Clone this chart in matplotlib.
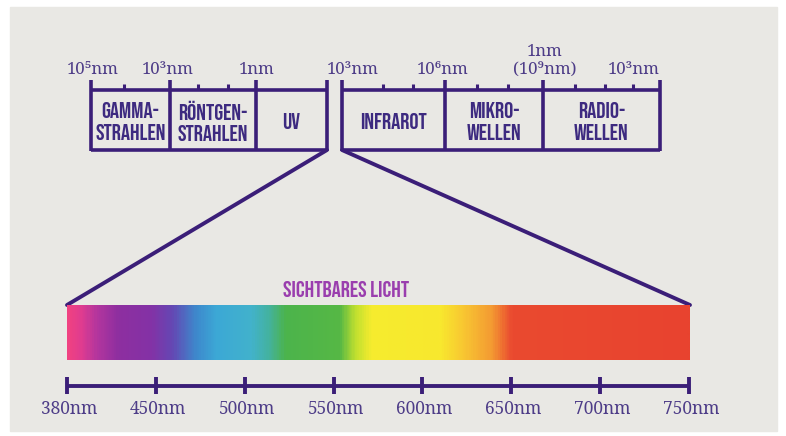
import matplotlib
matplotlib.use('Agg')
import matplotlib.pyplot as plt
import numpy as np
from matplotlib.colors import LinearSegmentedColormap
from matplotlib.patches import Rectangle

# Daten
band_names = ['GAMMA-\nSTRAHLEN', 'RÖNTGEN-\nSTRAHLEN', 'UV', 'INFRAROT', 'MIKRO-\nWELLEN', 'RADIO-\nWELLEN']
scale_labels = ['10⁵nm', '10³nm', '1nm', '10³nm', '10⁶nm', '1nm\n(10⁹nm)', '10³nm']
visible_nm = [380, 450, 500, 550, 600, 650, 700, 750]
title_visible = 'SICHTBARES LICHT'

# Farbverlauf des sichtbaren Lichts (Position im Balken 0..1, Farbe)
spec_pos = [0.0, 0.02, 0.045, 0.08, 0.133, 0.168, 0.205, 0.238, 0.294, 0.323, 0.35, 0.438, 0.462, 0.489, 0.6, 0.64, 0.683, 0.715, 1.0]
spec_col = ['#f04282', '#e03c90', '#b4369e', '#8e2fa0', '#8432a6', '#6448b4', '#3e88cc', '#3ca8d6',
            '#42b2cc', '#44b2a0', '#4cb44c', '#56b845', '#bedf30', '#f6ec2e', '#f8e82e', '#f8c432',
            '#f49a32', '#ea4a30', '#e8432f']

line_c = '#3b1e78'
text_c = '#3d2a80'
serif_c = '#4e3d88'
cond = ['Bebas Neue', 'Oswald', 'Roboto Condensed', 'DejaVu Sans']
serif = ['Noto Serif', 'Liberation Serif', 'DejaVu Serif']

fig = plt.figure(figsize=(7.86, 4.36), dpi=100)
ax = fig.add_axes([0, 0, 1, 1])
ax.set_xlim(0, 786)
ax.set_ylim(436, 0)
ax.axis('off')
ax.add_patch(Rectangle((10, 7), 767, 424, color='#e9e8e4', zorder=0))

# obere Skala mit Kästen
lw = 2.6
top, bot = 90, 150
left_edges = [91, 170, 256, 327]
right_edges = [342, 445, 543, 660]
for edges in (left_edges, right_edges):
    ax.plot([edges[0], edges[-1]], [top, top], color=line_c, lw=lw, solid_capstyle='butt')
    ax.plot([edges[0], edges[-1]], [bot, bot], color=line_c, lw=lw, solid_capstyle='butt')
    for x in edges:
        ax.plot([x, x], [80, bot + 1], color=line_c, lw=lw, solid_capstyle='butt')
for x in [124, 198, 228, 383, 413, 477, 508, 575, 605, 633]:
    ax.plot([x, x], [84, top], color=line_c, lw=2.2, solid_capstyle='butt')

label_x = [93, 168, 257, 353, 443, 545, 634]
for x, lab in zip(label_x, scale_labels):
    ax.text(x, 74, lab, ha='center', va='baseline', color=serif_c, fontsize=12,
            family=serif, linespacing=1.05)

edges_all = left_edges + right_edges
centers = [(edges_all[i] + edges_all[i + 1]) / 2 for i in [0, 1, 2, 4, 5, 6]]
for x, name in zip(centers, band_names):
    ax.text(x, 121, name, ha='center', va='center', color=text_c, fontsize=16.5,
            family=cond, weight='bold', linespacing=1.35)

# Verbindungslinien zum Spektrum
x0, x1 = 67, 690
y0, y1 = 305, 360
ax.plot([327, x0], [bot, y0], color=line_c, lw=2.8, solid_capstyle='round')
ax.plot([342, x1], [bot, y0], color=line_c, lw=2.8, solid_capstyle='round')

# Spektrum
cmap = LinearSegmentedColormap.from_list('spec', list(zip(spec_pos, spec_col)))
grad = np.linspace(0, 1, 600).reshape(1, -1)
ax.imshow(grad, cmap=cmap, extent=[x0, x1, y1, y0], aspect='auto', zorder=2, interpolation='bilinear')
ax.set_xlim(0, 786)
ax.set_ylim(436, 0)

ax.text(346, 289, title_visible, ha='center', va='center', color='#9a3eae',
        fontsize=16.5, family=cond, weight='bold')

# untere Achse
ax_y = 386
tick_x = np.linspace(x0, x1 - 1, len(visible_nm))
ax.plot([x0, x1 - 1], [ax_y, ax_y], color=line_c, lw=2.8, solid_capstyle='butt')
for x, nm in zip(tick_x, visible_nm):
    ax.plot([x, x], [377, 394], color=line_c, lw=2.8, solid_capstyle='butt')
    ax.text(x + 2, 409, f'{nm}nm', ha='center', va='center', color=serif_c, fontsize=12.5,
            family=serif)

fig.savefig('out.png', dpi=100)
